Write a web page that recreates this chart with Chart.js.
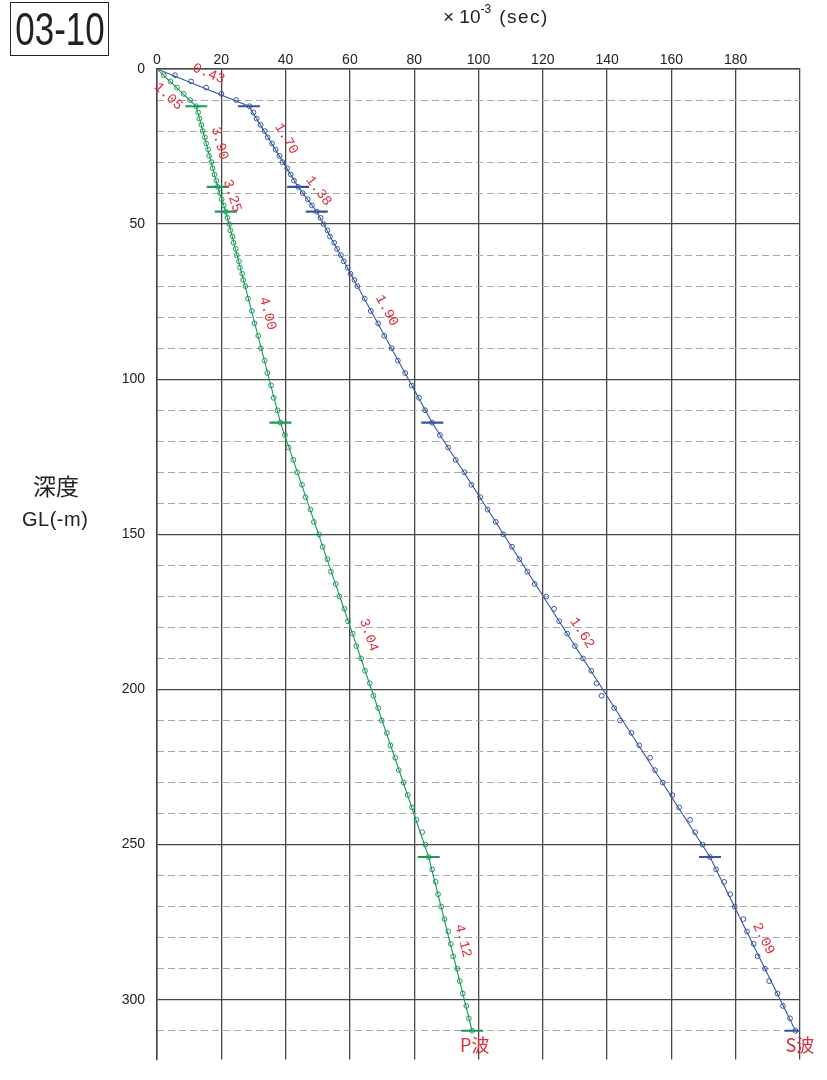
<!DOCTYPE html>
<html>
<head>
<meta charset="utf-8">
<script src="https://cdn.jsdelivr.net/npm/chart.js@4/dist/chart.umd.min.js"></script>
<style>
html,body{margin:0;padding:0;background:#fff;}
#wrap{position:relative;width:827px;height:1080px;overflow:hidden;background:#fff;}
#chart{position:absolute;left:0;top:0;}
.txt{position:absolute;color:#222;white-space:nowrap;line-height:1;}
#code{left:10px;top:2px;width:99px;height:54px;border:1.5px solid #222;box-sizing:border-box;}
#code span{position:absolute;left:50%;top:50%;transform:translate(-50%,-50%) scaleX(0.76);font-family:'Liberation Sans',Arial,sans-serif;font-size:46px;line-height:1;}
#unit{left:443px;top:7px;font-family:'Liberation Sans',Arial,sans-serif;font-size:19px;}
#unit sup{font-size:12px;position:relative;top:-4px;vertical-align:top;}
#unit .p{letter-spacing:1.5px;margin-left:8px;}
#depth1{left:33px;top:474px;font-family:'Noto Sans CJK JP',sans-serif;font-size:23px;}
#depth2{left:22px;top:509px;font-family:'Liberation Sans',Arial,sans-serif;font-size:20px;letter-spacing:0.5px;}
</style>
</head>
<body>
<div id="wrap">
<canvas id="chart" width="827" height="1080"></canvas>
<div class="txt" id="code"><span>03-10</span></div>
<div class="txt" id="unit">× 10<sup>-3</sup><span class="p">(sec)</span></div>
<div class="txt" id="depth1">深度</div>
<div class="txt" id="depth2">GL(-m)</div>
</div>
<script>
// ---- data ----
const depths = [2,4,6,8,10,12,14,16,18,20,22,24,26,28,30,32,34,36,38,40,42,44,46,48,50,52,54,56,58,60,62,64,66,68,70,
  74,78,82,86,90,94,98,102,106,110,114,118,122,126,130,134,138,142,146,150,154,158,162,166,170,174,178,182,186,190,194,198,
  202,206,210,214,218,222,226,230,234,238,242,246,250,254,258,262,266,270,274,278,282,286,290,294,298,302,306,310];
const pTimes = [2.1,4.2,6.2,8.3,10.3,12.2,12.8,13.2,13.8,14.2,14.9,15.3,15.9,16.2,16.9,17.3,17.9,18.5,18.9,19.6,20.1,20.8,21.4,21.9,22.5,22.8,23.5,23.8,24.5,24.8,25.5,25.8,26.5,26.8,27.5,
  28.3,29.5,30.3,31.5,32.3,33.5,34.3,35.5,36.3,37.5,38.4,39.8,40.9,42.4,43.6,45.1,46.2,47.7,48.8,50.4,51.5,53.0,54.1,55.6,56.7,58.3,59.4,60.9,62.0,63.5,64.7,66.2,
  67.3,68.8,69.9,71.5,72.6,74.1,75.2,76.7,78.0,79.3,80.7,82.5,83.5,84.5,85.6,86.7,87.4,88.4,89.4,90.6,91.4,92.1,93.4,94.2,95.1,96.2,97.0,98.0];
const sTimes = [5.6,10.6,15.3,20.0,24.6,28.8,30.0,31.0,32.2,33.5,34.4,35.8,36.9,38.1,39.0,40.5,41.6,42.6,43.9,45.3,46.9,48.2,49.7,50.9,51.8,53.0,53.8,55.1,56.0,57.2,58.1,59.3,60.2,61.4,62.3,
  64.6,66.5,68.8,70.7,73.0,74.9,77.2,79.2,81.5,83.4,85.6,88.0,90.6,92.9,95.6,97.8,100.5,102.8,105.4,107.7,110.4,112.7,115.2,117.5,121.1,123.5,125.1,127.6,130.0,132.5,135.1,136.7,
  138.3,142.2,144.0,147.6,150.0,153.4,154.9,157.3,160.3,162.4,165.8,167.4,169.7,172.0,173.9,176.4,178.3,179.7,182.4,183.5,185.6,186.8,189.1,190.4,193.0,194.7,196.9,198.6];
// layer boundaries and fitted travel times
const layerDepths = [0,12,38,46,114,254,310];
const pLayerTimes = [0,12.2,18.9,21.4,38.4,84.5,98.0];
const sLayerTimes = [0,28.6,43.9,49.7,85.6,172.0,198.6];
const pVelocities = ['1.05','3.90','3.25','4.00','3.04','4.12'];
const sVelocities = ['0.43','1.70','1.38','1.90','1.62','2.09'];
const xTickValues = [0,20,40,60,80,100,120,140,160,180];
const yTickValues = [0,50,100,150,200,250,300];

// ---- styles ----
const GREEN = '#1c9a58';
const BLUE = '#34559f';
const RED = '#d8303c';
const pLabelOffsets = [-12,13,11,15,15,13];
const sLabelOffsets = [15,15,14,14,13,12];

const pts = (xs, ys) => ys.map((d, i) => ({x: xs[i], y: d}));

const labelPlugin = {
  id: 'velocityLabels',
  afterDatasetsDraw(chart) {
    const {ctx, scales: {x, y}} = chart;
    ctx.save();
    ctx.fillStyle = RED;
    ctx.font = '14px "Liberation Mono", "DejaVu Sans Mono", monospace';
    ctx.textAlign = 'center';
    ctx.textBaseline = 'middle';
    const draw = (times, vels, offs) => {
      for (let i = 0; i < vels.length; i++) {
        const x0 = x.getPixelForValue(times[i]), y0 = y.getPixelForValue(layerDepths[i]);
        const x1 = x.getPixelForValue(times[i + 1]), y1 = y.getPixelForValue(layerDepths[i + 1]);
        const dx = x1 - x0, dy = y1 - y0, len = Math.hypot(dx, dy);
        const nx = dy / len, ny = -dx / len;
        const cx = (x0 + x1) / 2 + nx * offs[i], cy = (y0 + y1) / 2 + ny * offs[i];
        ctx.save();
        ctx.translate(cx, cy);
        ctx.rotate(Math.atan2(dy, dx));
        ctx.fillText(vels[i], 0, 0);
        ctx.restore();
      }
    };
    draw(pLayerTimes, pVelocities, pLabelOffsets);
    draw(sLayerTimes, sVelocities, sLabelOffsets);
    // wave names at the bottom ends
    ctx.font = '18px "Noto Sans CJK JP", sans-serif';
    ctx.textAlign = 'left';
    ctx.textBaseline = 'top';
    const last = layerDepths.length - 1;
    const yb = y.getPixelForValue(layerDepths[last]) + 5;
    ctx.fillText('P波', x.getPixelForValue(pLayerTimes[last]) - 12, yb);
    ctx.fillText('S波', x.getPixelForValue(sLayerTimes[last]) - 10, yb);
    ctx.restore();
  }
};

const tickFont = {family: "'Liberation Sans', Arial, sans-serif", size: 14};

new Chart(document.getElementById('chart'), {
  type: 'scatter',
  data: {
    datasets: [
      {label: 'P境界', data: pts(pLayerTimes.slice(1), layerDepths.slice(1)), pointStyle: 'line', pointRadius: 11, pointBorderWidth: 2.2, borderColor: GREEN, showLine: false, order: 1},
      {label: 'S境界', data: pts(sLayerTimes.slice(1), layerDepths.slice(1)), pointStyle: 'line', pointRadius: 11, pointBorderWidth: 2.2, borderColor: BLUE, showLine: false, order: 1},
      {label: 'P波', data: pts(pTimes, depths), pointStyle: 'circle', pointRadius: 2.4, pointBorderWidth: 1, borderColor: GREEN, backgroundColor: 'rgba(255,255,255,0)', showLine: false, order: 2},
      {label: 'S波', data: pts(sTimes, depths), pointStyle: 'circle', pointRadius: 2.4, pointBorderWidth: 1, borderColor: BLUE, backgroundColor: 'rgba(255,255,255,0)', showLine: false, order: 2},
      {label: 'P線', data: pts(pLayerTimes, layerDepths), showLine: true, pointRadius: 0, borderColor: GREEN, borderWidth: 1.1, order: 3},
      {label: 'S線', data: pts(sLayerTimes, layerDepths), showLine: true, pointRadius: 0, borderColor: BLUE, borderWidth: 1.1, order: 3}
    ]
  },
  options: {
    responsive: false,
    animation: false,
    layout: {padding: {left: 0, right: 27, top: 0, bottom: 0}},
    plugins: {legend: {display: false}, tooltip: {enabled: false}},
    scales: {
      x: {
        type: 'linear', position: 'top', min: 0, max: 200,
        afterBuildTicks: s => { s.ticks = xTickValues.concat([200]).map(v => ({value: v})); },
        ticks: {font: tickFont, color: '#222', padding: 0, maxRotation: 0,
          callback: v => xTickValues.includes(v) ? String(v) : ''},
        grid: {color: '#474747', lineWidth: 1.3, drawTicks: false},
        border: {color: '#474747', width: 1.5},
        afterFit: s => { s.height = 69; }
      },
      y: {
        type: 'linear', position: 'left', reverse: true, min: 0, max: 319.3,
        afterBuildTicks: s => { s.ticks = yTickValues.map(v => ({value: v})); },
        ticks: {font: tickFont, color: '#222', padding: 12},
        grid: {color: '#474747', lineWidth: 1.3, drawTicks: false},
        border: {color: '#474747', width: 1.5},
        afterFit: s => { s.width = 157; }
      },
      y2: {
        type: 'linear', position: 'left', reverse: true, min: 0, max: 319.3,
        ticks: {display: false, stepSize: 10, includeBounds: false},
        grid: {drawTicks: false, lineWidth: 1,
          color: c => (c.tick && Math.round(c.tick.value) % 50 === 0) ? 'rgba(0,0,0,0)' : '#a6a6a6'},
        border: {display: false, dash: [7, 4]},
        afterFit: s => { s.width = 0; }
      }
    }
  },
  plugins: [labelPlugin]
});
</script>
</body>
</html>
